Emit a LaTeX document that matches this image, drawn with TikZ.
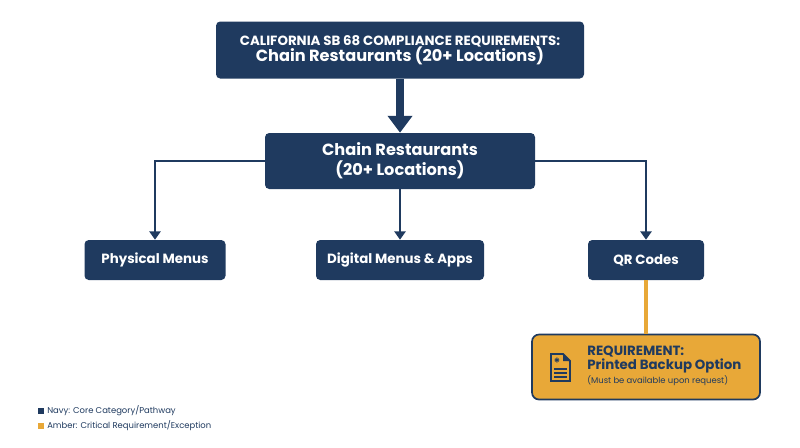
\documentclass[tikz,border=0pt]{standalone}
\usepackage{fontspec}
\setmainfont{Poppins}
\usepackage{xcolor}
\usetikzlibrary{arrows.meta,positioning}
\definecolor{navy}{HTML}{1F3A5F}
\definecolor{amber}{HTML}{E8A838}
\tikzset{
    navy-box/.style = {fill=navy, text=white, rounded corners=3pt, font=\bfseries, align=center, inner sep=0pt},
    amber-box/.style = {fill=amber, draw=navy, line width=1.2pt, rounded corners=5pt, inner sep=0pt},
    link/.style = {draw=navy, line width=2pt, -{Triangle[length=6pt,width=8pt]}},
}
\begin{document}
\begin{tikzpicture}[x=0.025cm, y=-0.025cm]
\useasboundingbox (0,0) rectangle (800,447);
% title and main category
\node[navy-box, minimum width=368*0.025cm, minimum height=57*0.025cm] (title) at (400,50)
  {{\fontsize{9.5}{11}\selectfont CALIFORNIA SB 68 COMPLIANCE REQUIREMENTS:}\\[-1pt]{\fontsize{11.5}{13}\selectfont Chain Restaurants (20+ Locations)}};
\node[navy-box, minimum width=270*0.025cm, minimum height=56*0.025cm, font=\bfseries\fontsize{11.5}{14}\selectfont] (chain) at (400,161)
  {Chain Restaurants\\(20+ Locations)};
\draw[navy, line width=5pt, -{Triangle[length=12pt,width=17pt]}] (title) -- (chain);
% pathways
\node[navy-box, minimum width=141*0.025cm, minimum height=40*0.025cm, font=\bfseries\fontsize{9.5}{11}\selectfont] (physical) at (155,260) {Physical Menus};
\node[navy-box, minimum width=168*0.025cm, minimum height=40*0.025cm, font=\bfseries\fontsize{9.5}{11}\selectfont] (digital) at (400,260) {Digital Menus \& Apps};
\node[navy-box, minimum width=116*0.025cm, minimum height=40*0.025cm, font=\bfseries\fontsize{9.5}{11}\selectfont] (qr) at (646,260) {QR Codes};
\draw[link] (chain.west) -| (physical.north);
\draw[link] (chain.south) -- (digital.north);
\draw[link] (chain.east) -| (qr.north);
% requirement
\node[amber-box, minimum width=228*0.025cm, minimum height=65*0.025cm] (req) at (646,367) {};
\draw[amber, line width=3pt] (qr.south) -- (req.north);
\node[amber-box, draw=none, fill=none, minimum width=0pt, minimum height=0pt] (icon) at (560,367) {};
\draw[navy, line width=1.3pt, fill=amber] (551,354) -- (563,354) -- (570,361) -- (570,381) -- (551,381) -- cycle;
\fill[navy] (563,354) -- (570,361) -- (563,361) -- cycle;
\node[text=navy, font=\bfseries\fontsize{9}{9}\selectfont, inner sep=0pt] at (557,363) {*};
\foreach \y in {369,373,377} \draw[navy, line width=1.2pt] (554,\y) -- (567,\y);
\node[anchor=west, align=left, text=navy, inner sep=0pt] (reqtext) at (587,366)
  {{\bfseries\fontsize{9.5}{11}\selectfont REQUIREMENT:}\\[-2pt]{\bfseries\fontsize{9.5}{11}\selectfont Printed Backup Option}\\[-2pt]{\fontsize{6}{8}\selectfont (Must be available upon request)}};
% legend
\fill[navy] (38,408) rectangle (44,414);
\node[anchor=west, text=navy, font=\fontsize{6}{7}\selectfont, inner sep=0pt] (leg1) at (47,411) {Navy: Core Category/Pathway};
\fill[amber] (38,423) rectangle (44,429);
\node[anchor=west, text=navy, font=\fontsize{6}{7}\selectfont, inner sep=0pt] (leg2) at (47,426) {Amber: Critical Requirement/Exception};
\end{tikzpicture}
\end{document}
